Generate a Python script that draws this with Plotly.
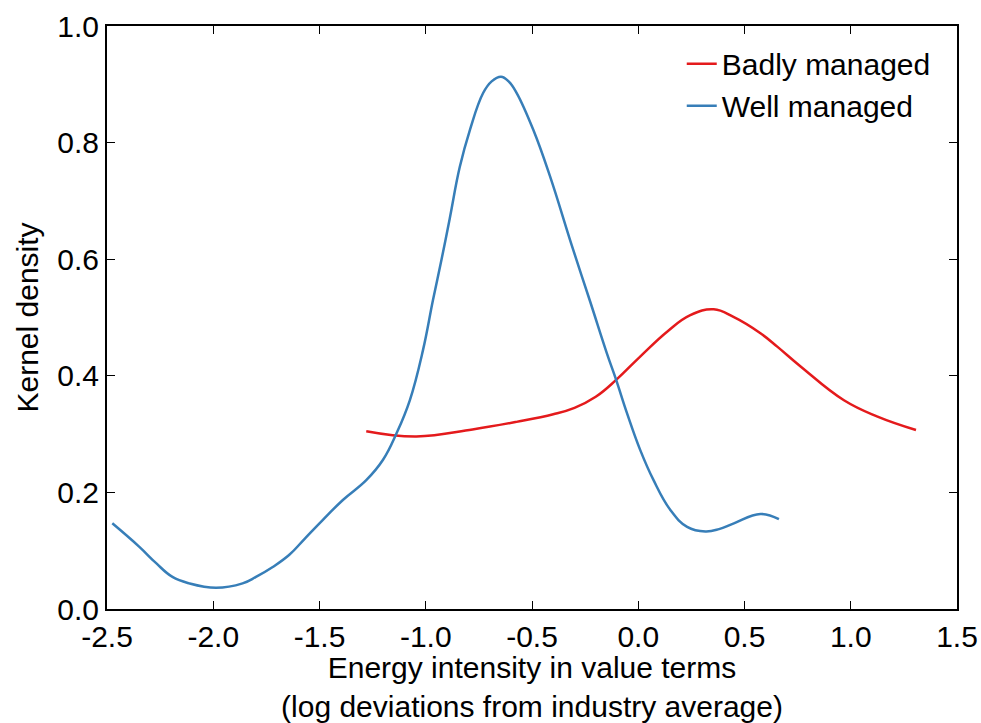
import plotly.graph_objects as go

# Well managed (blue)
well_x = [-2.475, -2.349, -2.270, -2.192, -2.113, -1.987, -1.862, -1.799, -1.720, -1.642,
          -1.571, -1.484, -1.390, -1.280, -1.201, -1.138, -1.075, -1.013, -0.966, -0.926,
          -0.887, -0.840, -0.792, -0.730, -0.690, -0.646, -0.610, -0.572, -0.494, -0.415,
          -0.314, -0.226, -0.148, -0.104, -0.053, 0.009, 0.072, 0.151, 0.230, 0.316,
          0.380, 0.450, 0.575, 0.662]
well_y = [0.147, 0.107, 0.079, 0.055, 0.044, 0.0365, 0.044, 0.055, 0.072, 0.093,
          0.120, 0.153, 0.187, 0.221, 0.256, 0.301, 0.358, 0.444, 0.530, 0.599,
          0.670, 0.758, 0.822, 0.885, 0.905, 0.913, 0.905, 0.885, 0.822, 0.742,
          0.625, 0.527, 0.439, 0.393, 0.336, 0.273, 0.221, 0.170, 0.141, 0.133,
          0.137, 0.147, 0.163, 0.154]

# Badly managed (red)
bad_x = [-1.280, -1.044, -0.780, -0.573, -0.400, -0.300, -0.200, -0.104, 0.009, 0.140,
         0.245, 0.355, 0.448, 0.575, 0.654, 0.764, 0.968, 1.126, 1.307]
bad_y = [0.305, 0.296, 0.308, 0.321, 0.334, 0.345, 0.364, 0.393, 0.433, 0.477,
         0.504, 0.514, 0.501, 0.473, 0.450, 0.416, 0.358, 0.330, 0.307]

x_tickvals = [-2.5, -2.0, -1.5, -1.0, -0.5, 0.0, 0.5, 1.0, 1.5]
x_ticktext = ["-2.5", "-2.0", "-1.5", "-1.0", "-0.5", "0.0", "0.5", "1.0", "1.5"]
y_tickvals = [0.0, 0.2, 0.4, 0.6, 0.8, 1.0]
y_ticktext = ["0.0", "0.2", "0.4", "0.6", "0.8", "1.0"]

FONT = "Liberation Sans, Arial, Helvetica, sans-serif"
FS = 30

fig = go.Figure()
fig.add_trace(go.Scatter(x=bad_x, y=bad_y, mode="lines", name="Badly managed",
                         line=dict(color="#e41a1c", width=2.5, shape="spline", smoothing=1.2)))
fig.add_trace(go.Scatter(x=well_x, y=well_y, mode="lines", name="Well managed",
                         line=dict(color="#377eb8", width=2.5, shape="spline", smoothing=1.2)))

axis_common = dict(showline=True, linecolor="black", linewidth=2, mirror="ticks",
                   ticks="inside", ticklen=8, tickwidth=1, tickcolor="black",
                   showgrid=False, zeroline=False,
                   tickfont=dict(family=FONT, size=FS, color="black"))

fig.update_layout(
    width=981, height=723,
    margin=dict(l=107, r=24, t=26, b=114),
    paper_bgcolor="white", plot_bgcolor="white",
    font=dict(family=FONT, size=FS, color="black"),
    xaxis=dict(range=[-2.5, 1.5], tickvals=x_tickvals, ticktext=x_ticktext,
               title=dict(text="Energy intensity in value terms<br>(log deviations from industry average)",
                          font=dict(family=FONT, size=FS), standoff=6),
               automargin=False,
               **axis_common),
    yaxis=dict(range=[0, 1], tickvals=y_tickvals, ticktext=y_ticktext,
               title=dict(text="Kernel density", font=dict(family=FONT, size=FS), standoff=10),
               automargin=False,
               **axis_common),
    legend=dict(x=0.975, y=0.98, xanchor="right", yanchor="top",
                bgcolor="rgba(0,0,0,0)", borderwidth=0,
                font=dict(family=FONT, size=FS)),
    showlegend=True,
)

fig.write_html("out.html")
